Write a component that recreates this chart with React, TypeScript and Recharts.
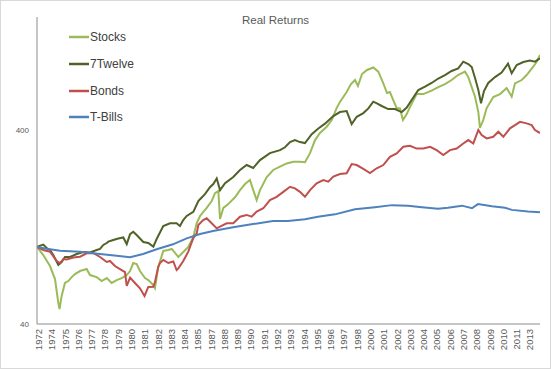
import React from 'react';
import { LineChart, Line, XAxis, YAxis, Legend } from 'recharts';

// ---- Data ----
const seriesNames = ['Stocks', '7Twelve', 'Bonds', 'T-Bills'];
const seriesColors = ['#9BBB59', '#4F6228', '#C0504D', '#4F81BD'];

const stocksYears = [1972.92,1973.43,1973.98,1974.39,1974.66,1974.76,1974.93,1975.2,1975.47,1975.75,1976.02,1976.43,1976.97,1977.24,1977.79,1978.2,1978.61,1979.01,1979.42,1979.83,1980.24,1980.51,1980.77,1981.05,1981.32,1981.73,1982.0,1982.41,1982.54,1982.81,1983.22,1983.63,1983.91,1984.18,1984.45,1984.85,1985.26,1985.67,1985.95,1986.22,1986.76,1987.17,1987.44,1987.71,1987.85,1988.12,1988.52,1989.07,1989.48,1989.89,1990.29,1990.56,1990.84,1991.11,1991.66,1992.19,1992.74,1993.29,1993.83,1994.37,1994.78,1995.19,1995.6,1996.0,1996.55,1996.96,1997.36,1997.63,1998.18,1998.53,1998.86,1999.1,1999.43,1999.84,2000.35,2000.76,2001.17,2001.47,2001.71,2001.98,2002.26,2002.53,2002.77,2003.08,2003.34,2003.89,2004.43,2005.11,2005.65,2006.2,2006.74,2007.26,2007.83,2008.1,2008.38,2008.65,2008.92,2009.05,2009.32,2009.6,2010.14,2010.69,2011.23,2011.64,2011.91,2012.46,2012.86,2013.4,2013.68,2013.95];
const stocksValues = [100,90.7,79.6,68.2,51.3,47.8,55.8,65.1,66.6,69.8,72.4,75,76.8,71.5,69.8,66.6,69,65.1,67.4,69,71.5,75,82.5,81.5,75,69,67.4,63.5,61.3,78.6,95.2,96.3,97.5,93,88.6,94,99.8,112.3,132.7,144.2,158.7,172,189,193.7,139.1,158.7,166,180,196,210.7,221,196,174,196,229,249,259,269,274.5,274.5,273,304,355,386,416,450,519,557.6,628,690,724,674.6,777.5,815.6,840,800,696,620.6,628,571,519,517,450,483,525,613,613,639,666,690,724,768,800,750,666,594,495,410,450,519,592,613,658.6,594,696,724,768,848,900,974];

const twelveYears = [1972.92,1973.43,1973.71,1973.98,1974.25,1974.66,1974.93,1975.2,1975.61,1976.16,1976.7,1977.24,1977.79,1978.06,1978.33,1978.61,1978.74,1979.14,1979.55,1979.96,1980.24,1980.51,1980.77,1981.05,1981.32,1981.59,1982.0,1982.41,1982.68,1983.22,1983.77,1984.31,1984.58,1984.85,1985.13,1985.67,1986.08,1986.22,1986.62,1987.03,1987.3,1987.58,1987.85,1988.26,1988.93,1989.48,1990.02,1990.56,1991.11,1991.92,1992.74,1993.15,1993.56,1993.96,1994.37,1994.78,1995.33,1995.87,1996.41,1997.09,1997.63,1998.18,1998.59,1999.0,1999.54,1999.95,2000.35,2000.65,2001.04,2001.57,2002.12,2002.67,2003.08,2003.48,2004.02,2004.57,2005.11,2005.65,2006.2,2006.74,2007.28,2007.69,2008.1,2008.38,2008.65,2008.92,2009.14,2009.38,2009.73,2010.28,2010.82,2011.34,2011.64,2012.05,2012.59,2013.13,2013.54,2013.95];
const twelveValues = [100,102.7,98.6,96.3,90.7,80.6,83.5,88.6,88.6,91.8,94,93.5,96.3,97.5,102.2,104.6,106.3,108.4,110.4,111.7,103.3,116.3,119.6,115,110.4,105.9,104.6,100.2,109.7,128,132.2,132.2,128,137.5,144.2,151.4,172,176,187,203,210.7,225,196,213,229,249,264,255,280,304,315,326,346.7,355,346.7,342.7,381,407,431.5,472,495,501,429,468,489,517,560,549,532,513,513,495,522,571,643,669,699,737,768,806,832,900,875,845,741,643,549,635,699,750,792,880,784,865,896,912,900,936];

const bondsYears = [1972.92,1973.43,1973.98,1974.53,1974.8,1975.07,1975.34,1975.88,1976.43,1976.97,1977.51,1978.06,1978.61,1978.87,1979.28,1979.69,1980.1,1980.24,1980.51,1980.91,1981.32,1981.69,1982.0,1982.41,1982.54,1982.81,1982.95,1983.22,1983.63,1984.04,1984.31,1984.45,1984.85,1985.26,1985.4,1985.67,1985.95,1986.08,1986.22,1986.48,1986.76,1987.17,1987.58,1987.85,1988.39,1988.93,1989.48,1990.02,1990.43,1990.84,1991.38,1991.92,1992.47,1993.01,1993.56,1993.96,1994.37,1994.78,1995.19,1995.73,1996.27,1996.68,1997.09,1997.63,1998.18,1998.59,1999.0,1999.54,2000.08,2000.63,2001.17,2001.71,2002.26,2002.8,2003.34,2003.89,2004.43,2004.98,2005.52,2006.06,2006.61,2007.15,2007.69,2008.1,2008.51,2008.92,2009.19,2009.6,2010.14,2010.55,2010.96,2011.5,2011.91,2012.32,2012.86,2013.27,2013.54,2013.95];
const bondsValues = [100,96.3,94.4,84.5,82.5,86.5,86,88,88.9,92.6,93,88.6,83.5,84.5,79.6,76.8,74.1,62.8,69.4,65.1,61.1,55.8,62.1,62.3,65.8,78.9,82.5,85.5,82.5,84,75.9,77.4,84.5,94.4,100,110.9,117.3,129.6,132.2,137.5,140.3,132.2,124.5,127,132.2,132.2,143,146,143,152,158,174,181,192,204,200,192,181,196,212.5,221,216.6,230,237.4,239.4,267,264,252,240,254,264,291,303,328,332,321,321,328,315,297,315,321,341,355,341,400,377,362,369,392,369,408,424,441,433,424,400,386];

const billsYears = [1972.92,1973.57,1974.8,1976.43,1978.06,1979.42,1980.51,1981.57,1982.68,1984.01,1985.13,1986.22,1987.28,1988.91,1990.54,1992.17,1993.39,1994.78,1995.84,1997.23,1998.86,2000.49,2001.88,2003.18,2004.32,2005.63,2006.44,2007.59,2008.4,2008.89,2010.03,2011.09,2011.66,2012.97,2013.95];
const billsValues = [100,98,95.5,94.4,91.8,89.9,88.3,91.8,97.1,103,110.6,116.4,120.6,126,131,135.8,136,138.6,143,147,156,160,164,163,160,157,159,163,158,166,162,159,155,152,150.6];

const xTickLabels = ['1972','1974','1975','1976','1977','1978','1979','1980','1981','1982','1983','1984','1985','1987','1988','1989','1990','1991','1992','1993','1994','1995','1996','1997','1998','2000','2001','2002','2003','2004','2005','2006','2007','2008','2009','2010','2011','2013'];
const yTicks = [40, 400];
const yDomain = [40, 1530];
const xStart = 1972.92;
const xEnd = 2013.95;
const tickStepMonths = 13;

const build = (years: number[], values: number[]) => years.map((t, i) => ({ t, v: values[i] }));
const seriesData = [
  build(stocksYears, stocksValues),
  build(twelveYears, twelveValues),
  build(bondsYears, bondsValues),
  build(billsYears, billsValues),
];

const xTicks = xTickLabels.map((_, i) => xStart + (i * tickStepMonths) / 12);

const FONT = '"Liberation Sans", Arial, sans-serif';

const XTick = (props: any) => {
  const { x, y, index } = props;
  return (
    <g transform={`translate(${x + 1.5},${y - 3})`}>
      <text
        transform="rotate(-90)"
        textAnchor="end"
        dominantBaseline="central"
        fontSize={9.5}
        fontFamily={FONT}
        fill="#595959"
      >
        {xTickLabels[index]}
      </text>
    </g>
  );
};

const renderLegend = () => (
  <div style={{ fontFamily: FONT }}>
    {seriesNames.map((name, i) => (
      <div key={name} style={{ display: 'flex', alignItems: 'center', height: 26.7 }}>
        <svg width={20} height={4} style={{ display: 'block' }}>
          <line x1={0} y1={2} x2={20} y2={2} stroke={seriesColors[i]} strokeWidth={2.5} />
        </svg>
        <span style={{ fontSize: 12, color: '#404040', marginLeft: 1, lineHeight: '14px' }}>{name}</span>
      </div>
    ))}
  </div>
);

export default function App() {
  return (
    <div style={{ position: 'absolute', left: 0, top: 0, width: 551, height: 369, background: '#fff' }}>
      <LineChart width={551} height={369} margin={{ top: 17, right: 11, bottom: 0, left: 0 }}>
        <XAxis
          dataKey="t"
          type="number"
          domain={[xStart, xEnd]}
          allowDataOverflow
          ticks={xTicks}
          interval={0}
          tick={<XTick />}
          tickLine={false}
          axisLine={{ stroke: '#8C8C8C', strokeWidth: 1 }}
          height={45}
        />
        <YAxis
          type="number"
          scale="log"
          domain={yDomain}
          allowDataOverflow
          ticks={yTicks}
          interval={0}
          tickLine={false}
          axisLine={{ stroke: '#8C8C8C', strokeWidth: 1 }}
          tick={{ fontSize: 8, fill: '#595959', fontFamily: FONT }}
          width={37}
        />
        <Legend
          content={renderLegend}
          layout="horizontal"
          verticalAlign="middle"
          align="center"
          wrapperStyle={{ left: 69, top: 24, width: 120, height: 110 }}
        />
        {seriesNames.map((name, i) => (
          <Line
            key={name}
            name={name}
            data={seriesData[i]}
            dataKey="v"
            type="linear"
            stroke={seriesColors[i]}
            strokeWidth={2}
            dot={false}
            activeDot={false}
            isAnimationActive={false}
          />
        ))}
      </LineChart>
      <div
        style={{
          position: 'absolute',
          left: 0,
          top: 12,
          width: 551,
          textAlign: 'center',
          fontFamily: FONT,
          fontSize: 11.5,
          color: '#595959',
          lineHeight: '16px',
        }}
      >
        Real Returns
      </div>
      <div
        style={{
          position: 'absolute',
          left: 0,
          top: 0,
          width: 551,
          height: 369,
          boxSizing: 'border-box',
          border: '1px solid #D9D9D9',
          pointerEvents: 'none',
        }}
      />
    </div>
  );
}
